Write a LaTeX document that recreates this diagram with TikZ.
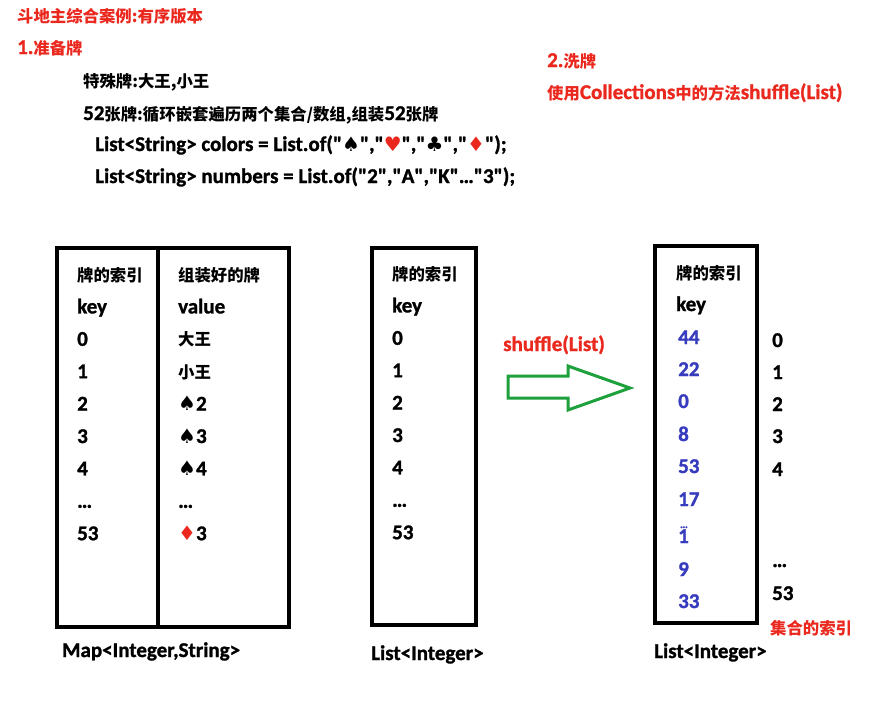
\documentclass[tikz,border=0pt]{standalone}
\usepackage{fontspec}
\setmainfont{Carlito}[Ligatures=TeXOff,BoldFeatures={FakeBold=1.2}]
\newfontfamily\cjk{Noto Sans CJK SC}[Scale=0.78]
\newfontfamily\suitfont{DejaVu Sans}[Scale=0.95]
\newcommand\zh[1]{{\cjk #1}}
\newcommand\suit[1]{{\suitfont #1}}
\newcommand\dotsone{\makebox[0pt][l]{\raisebox{15pt}{\fontsize{11}{12}\selectfont\,\ldots}}1}
\definecolor{slidered}{RGB}{235,40,30}
\definecolor{keyblue}{RGB}{55,60,190}
\definecolor{arrowgreen}{RGB}{30,160,60}
\begin{document}
\begin{tikzpicture}[x=1pt,y=-1pt,
  txt/.style={anchor=base west,inner sep=0pt,font=\fontsize{21}{24}\selectfont\bfseries},
  redtxt/.style={txt,text=slidered},
  bluetxt/.style={txt,text=keyblue},
  frame/.style={line width=3.5pt}]
\useasboundingbox[fill=white] (0,0) rectangle (883,705);
% headings
\node[redtxt] (title) at (17,22) {\zh{斗地主综合案例:有序版本}};
\node[redtxt] (step1) at (17,54) {1.\zh{准备牌}};
\node[txt] (special) at (83,87) {\zh{特殊牌:大王,小王}};
\node[txt] (deck) at (83,120) {52\zh{张牌:循环嵌套遍历两个集合/数组,组装}52\zh{张牌}};
\node[txt] (colors) at (95,151) {List<String> colors = List.of("\suit{♠}","\textcolor{slidered}{\suit{♥}}","\suit{♣}","\textcolor{slidered}{\suit{♦}}");};
\node[txt] (numbers) at (95,183) {List<String> numbers = List.of("2","A","K"\ldots"3");};
\node[redtxt] (step2) at (547,67) {2.\zh{洗牌}};
\node[redtxt] (usage) at (547,99) {\zh{使用}Collections\zh{中的方法}shuffle(List)};
% Map<Integer,String>
\draw[frame] (57,248) rectangle (289,627);
\draw[frame] (158,248) -- (158,627);
\foreach \cell [count=\i from 0] in {\zh{牌的索引},key,0,1,2,3,4,\ldots,53}
  \node[txt] (mapkey\i) at (77,{281+32.4*\i}) {\cell};
\foreach \cell [count=\i from 0] in {\zh{组装好的牌},value,\zh{大王},\zh{小王},\suit{♠}2,\suit{♠}3,\suit{♠}4,\ldots,\textcolor{slidered}{\suit{♦}}3}
  \node[txt] (mapval\i) at (178,{281+32.4*\i}) {\cell};
\node[txt] (maplabel) at (62,657) {Map<Integer,String>};
% List<Integer> before shuffle
\draw[frame] (372,248) rectangle (476,625);
\foreach \cell [count=\i from 0] in {\zh{牌的索引},key,0,1,2,3,4,\ldots,53}
  \node[txt] (listkey\i) at (392,{280+32.4*\i}) {\cell};
\node[txt] (listlabel) at (371,660) {List<Integer>};
% shuffle arrow
\node[redtxt] (shufflelabel) at (503,351) {shuffle(List)};
\draw[arrowgreen,line width=3pt] (508,376) -- (568,376) -- (568,366) -- (630,388)
  -- (568,410) -- (568,398) -- (508,398) -- cycle;
% List<Integer> after shuffle
\draw[frame] (655,246) rectangle (757,623);
\node[txt] (shufhead) at (676,279) {\zh{牌的索引}};
\node[txt] (shufkey) at (676,311) {key};
\foreach \cell/\y [count=\i] in {44/344,22/376,0/408,8/441,53/473,17/506,\dotsone/543,9/576,33/608}
  \node[bluetxt] (shufval\i) at (678,\y) {\cell};
\foreach \cell/\y [count=\i] in {0/347,1/379,2/411,3/443,4/476,\ldots/567,53/600}
  \node[txt] (setidx\i) at (772,\y) {\cell};
\node[redtxt] (setlabel) at (770,634) {\zh{集合的索引}};
\node[txt] (shuflabel) at (654,658) {List<Integer>};
\end{tikzpicture}
\end{document}
